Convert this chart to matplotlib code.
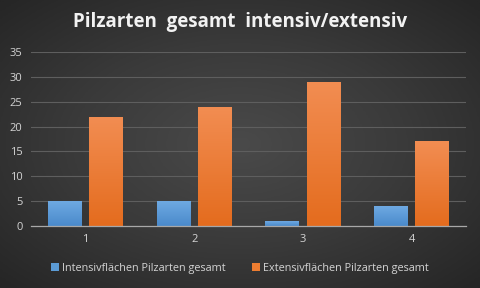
import matplotlib.pyplot as plt
import numpy as np
from matplotlib.colors import LinearSegmentedColormap

categories = ['1', '2', '3', '4']
intensiv = [5, 5, 1, 4]
extensiv = [22, 24, 29, 17]
series_names = ['Intensivflächen Pilzarten gesamt', 'Extensivflächen Pilzarten gesamt']

plt.rcParams['font.family'] = ['Open Sans', 'DejaVu Sans']

fig = plt.figure(figsize=(4.8, 2.88), dpi=100)

# radial gradient background
bg = fig.add_axes([0, 0, 1, 1], zorder=-10)
yy, xx = np.mgrid[-1:1:200j, -1:1:300j]
r = np.sqrt(xx**2 + yy**2)
bg_cmap = LinearSegmentedColormap.from_list('bg', ['#4a4a4a', '#3a3a3a', '#262626'])
bg.imshow(r, cmap=bg_cmap, aspect='auto', extent=[0, 1, 0, 1], vmin=0, vmax=1.4)
bg.axis('off')

ax = fig.add_axes([31 / 480, 1 - 226 / 288, 435 / 480, 174 / 288])
ax.patch.set_alpha(0)

x = np.arange(len(categories))
w = 0.31
off = 0.19
bars1 = ax.bar(x - off, intensiv, w, color='#5b9bd5', zorder=3)
bars2 = ax.bar(x + off, extensiv, w, color='#ed7d31', zorder=3)

# vertical gradient fill inside bars
def shade(bars, top, bottom):
    cm = LinearSegmentedColormap.from_list('g', [bottom, top])
    grad = np.linspace(0, 1, 100).reshape(-1, 1)
    for b in bars:
        bx, by = b.get_x(), b.get_y()
        bw, bh = b.get_width(), b.get_height()
        im = ax.imshow(grad, cmap=cm, aspect='auto', origin='lower',
                       extent=[bx, bx + bw, by, by + bh], zorder=4)
        im.set_clip_path(b)

shade(bars1, '#6ea9e2', '#4a8acb')
shade(bars2, '#f28d52', '#e46c1e')

ax.set_xlim(-0.5, 3.5)
ax.set_ylim(0, 35)
ax.set_yticks(range(0, 36, 5))
ax.set_xticks(x)
ax.set_xticklabels(categories)
ax.grid(axis='y', color='#5e5e5e', linewidth=0.8, zorder=0)
for s in ['top', 'right', 'left']:
    ax.spines[s].set_visible(False)
ax.spines['bottom'].set_color('#a8a8a8')
ax.spines['bottom'].set_linewidth(0.9)
ax.spines['bottom'].set_zorder(5)
ax.tick_params(axis='both', length=0, colors='#d4d4d4', labelsize=8)
ax.tick_params(axis='x', pad=6)
ax.tick_params(axis='y', pad=6)

fig.text(0.5, 1 - 22 / 288, 'Pilzarten  gesamt  intensiv/extensiv', ha='center', va='center',
         color='#f2f2f2', fontsize=13.5, fontweight='bold')

leg = fig.legend([bars1, bars2], series_names, loc='center', bbox_to_anchor=(0.5, 1 - 268 / 288),
                 ncol=2, frameon=False, fontsize=7.8, handlelength=0.7, handleheight=0.7,
                 handletextpad=0.3, columnspacing=2.5)
for t in leg.get_texts():
    t.set_color('#d4d4d4')

fig.savefig('out.png', dpi=100)
